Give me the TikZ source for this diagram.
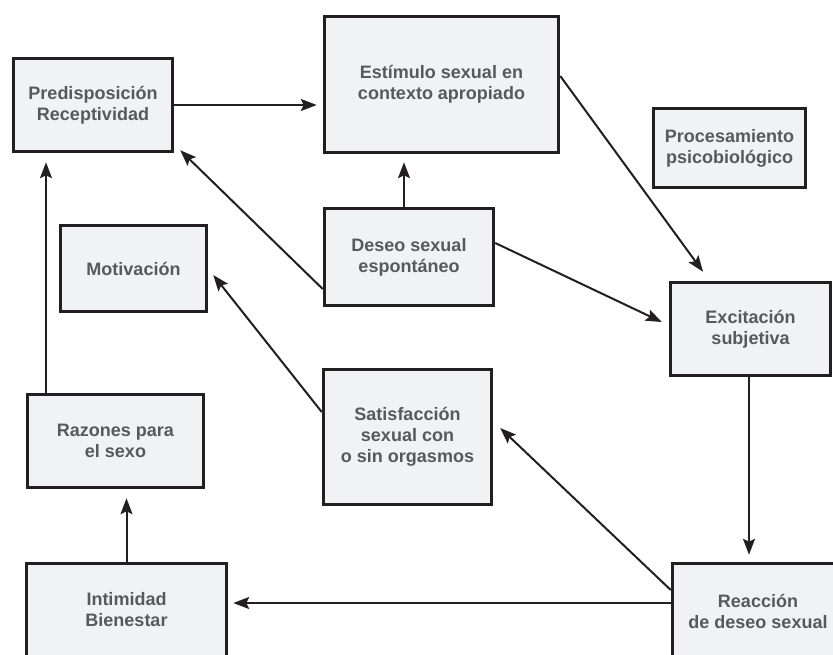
\documentclass[tikz,border=0pt]{standalone}
\usepackage{fontspec}
\setmainfont{Liberation Sans}
\usetikzlibrary{arrows.meta,calc}
\definecolor{boxfill}{HTML}{F1F2F4}
\definecolor{boxline}{HTML}{231F20}
\definecolor{txt}{HTML}{58595B}
\begin{document}
\begin{tikzpicture}[x=1pt,y=-1pt,
  box/.style={draw=boxline,fill=boxfill,line width=3.5pt,inner sep=0pt,
    align=center,text=txt,font=\fontsize{18}{21}\selectfont\bfseries},
  conn/.style={draw=boxline,line width=2pt,-{Stealth[length=16pt,width=12pt,inset=3pt]}}]
\useasboundingbox (0,0) rectangle (833,654);
\clip (0,0) rectangle (833,654);
\node[box,minimum width=159,minimum height=93] (pred) at (93,105) {Predisposición\\Receptividad};
\node[box,minimum width=234,minimum height=136] (est) at (441.5,84.5) {Estímulo sexual en\\contexto apropiado};
\node[box,minimum width=152,minimum height=79] (proc) at (729.5,148) {Procesamiento\\psicobiológico};
\node[box,minimum width=169,minimum height=97] (deseo) at (409,257) {Deseo sexual\\espontáneo};
\node[box,minimum width=146,minimum height=86] (motiv) at (133.5,268.5) {Motivación};
\node[box,minimum width=160,minimum height=93] (excit) at (750.5,329) {Excitación\\subjetiva};
\node[box,minimum width=168,minimum height=135] (satis) at (407.5,437) {Satisfacción\\sexual con\\o sin orgasmos};
\node[box,minimum width=176,minimum height=93] (razon) at (115.5,441) {Razones para\\el sexo};
\node[box,minimum width=200,minimum height=93] (intim) at (126.5,610) {Intimidad\\Bienestar};
\node[box,minimum width=171,minimum height=95] (reac) at (758,611) {Reacción\\de deseo sexual};

\draw[conn,shorten >=6pt] (pred.east) -- (pred.east -| est.west);
\draw[conn,shorten >=8pt] ([xshift=-5pt]deseo.north) -- ([xshift=-5pt]deseo.north |- est.south);
\draw[conn] ([yshift=-32pt]deseo.west) -- ([xshift=6pt,yshift=3pt]pred.south east);
\draw[conn] ([yshift=14pt]deseo.east) -- ([xshift=-7pt,yshift=7pt]excit.west);
\draw[conn] ([yshift=8.5pt]est.east) -- ([xshift=-47.5pt,yshift=9pt]excit.north);
\draw[conn,shorten >=7pt] ([xshift=-1.5pt]excit.south) -- ([xshift=-1.5pt]excit.south |- reac.north);
\draw[conn] ([yshift=21pt]reac.west) -- ([xshift=7pt,yshift=9pt]satis.east);
\draw[conn,shorten >=5pt] ([yshift=8pt]reac.west) -- ([yshift=8pt]reac.west -| intim.east);
\draw[conn] ([yshift=25pt]satis.west) -- ([xshift=5pt,yshift=-6.5pt]motiv.east);
\draw[conn,shorten >=9pt] (intim.north) -- (intim.north |- razon.south);
\draw[conn,shorten >=9pt] ([xshift=-69.5pt]razon.north) -- ([xshift=-69.5pt]razon.north |- pred.south);
\end{tikzpicture}
\end{document}
